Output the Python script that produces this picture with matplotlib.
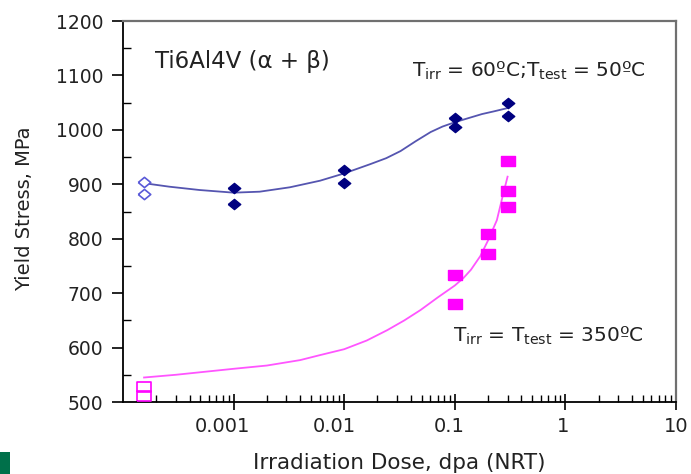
import matplotlib
matplotlib.use("Agg")
import matplotlib.pyplot as plt
from matplotlib.patches import Rectangle
from matplotlib.transforms import ScaledTranslation
from matplotlib.ticker import LogLocator, FixedLocator, MultipleLocator, NullFormatter

plt.rcParams['font.family'] = ['DejaVu Sans']
plt.rcParams['mathtext.fontset'] = 'dejavusans'

# ---- data ----
# Tirr = 60C, Ttest = 50C  (blue)
unirr_x_blue = [1.55e-4, 1.55e-4]
unirr_y_blue = [905, 883]
dose_blue = [0.001, 0.001, 0.01, 0.01, 0.1, 0.1, 0.3, 0.3]
ys_blue = [894, 864, 926, 903, 1021, 1005, 1049, 1025]
fit_x_blue = [1.55e-4, 2.62e-4, 4.91e-4, 1e-3, 1.72e-3, 3.23e-3, 6.05e-3, 1e-2, 1.72e-2,
              2.4e-2, 3.23e-2, 4.42e-2, 6.05e-2, 7.73e-2, 0.1, 0.13, 0.176, 0.226, 0.3]
fit_y_blue = [902, 895.6, 889.5, 884.6, 886.4, 894.5, 906.6, 920, 937,
              948, 961, 979, 996, 1006, 1014, 1021, 1029, 1034, 1040]

# Tirr = Ttest = 350C (magenta)
unirr_x_mag = [1.55e-4, 1.55e-4]
unirr_y_mag = [528, 511]
dose_mag = [0.1, 0.1, 0.2, 0.2, 0.3, 0.3, 0.3]
ys_mag = [733, 680, 808, 771, 943, 888, 859]
fit_x_mag = [1.55e-4, 3e-4, 1e-3, 2e-3, 4e-3, 6e-3, 1e-2, 1.6e-2, 2.45e-2, 3.5e-2, 4.9e-2,
             7e-2, 0.1, 0.12, 0.14, 0.17, 0.2, 0.24, 0.27, 0.3]
fit_y_mag = [545, 550, 561, 567, 577, 586, 597, 613, 632, 650, 669,
             692, 714, 728, 743, 768, 797, 834, 877, 914]

xticks = [0.001, 0.01, 0.1, 1, 10]
xticklabels = ['0.001', '0.01', '0.1', '1', '10']
yticks = [500, 600, 700, 800, 900, 1000, 1100, 1200]

# ---- figure ----
fig = plt.figure(figsize=(6.91, 4.74), dpi=100)
ax = fig.add_axes([123/691, 1 - 402/474, 553/691, 381/474])

diamond = [(-1, 0), (0, 0.82), (1, 0), (0, -0.82), (-1, 0)]
rect = [(-1, -0.75), (1, -0.75), (1, 0.75), (-1, 0.75), (-1, -0.75)]

blue_dark = '#000080'
blue_line = '#5555b0'
mag = '#ff00ff'

ax.plot(fit_x_blue, fit_y_blue, color=blue_line, lw=1.3, zorder=2,
        solid_joinstyle='round')
ax.plot(fit_x_mag, fit_y_mag, color='#ff55ff', lw=1.3, zorder=2,
        solid_joinstyle='round')

ax.plot(unirr_x_blue, unirr_y_blue, linestyle='none', marker=diamond, ms=9,
        mfc='white', mec='#5a5ad8', mew=1.2, zorder=3)
ax.plot(dose_blue, ys_blue, linestyle='none', marker=diamond, ms=9,
        mfc=blue_dark, mec=blue_dark, zorder=3)
ax.plot(unirr_x_mag, unirr_y_mag, linestyle='none', marker=rect, ms=10,
        mfc='none', mec=mag, mew=1.2, zorder=3)
ax.plot(dose_mag, ys_mag, linestyle='none', marker=rect, ms=10.5,
        mfc=mag, mec=mag, zorder=3)

ax.set_xscale('log')
ax.set_xlim(1e-4, 10)
ax.set_ylim(500, 1200)

ax.xaxis.set_major_locator(FixedLocator(xticks))
ax.set_xticklabels(xticklabels)
ax.xaxis.set_minor_locator(LogLocator(base=10, subs=range(2, 10), numticks=20))
ax.xaxis.set_minor_formatter(NullFormatter())
ax.yaxis.set_major_locator(FixedLocator(yticks))
ax.yaxis.set_minor_locator(MultipleLocator(50))

ax.tick_params(axis='x', which='major', direction='inout', length=12, width=1.2,
               labelsize=14, pad=5, colors='black', labelcolor='#222222')
ax.tick_params(axis='x', which='minor', direction='in', length=5, width=1.0)
ax.tick_params(axis='y', which='major', direction='out', length=8, width=1.2,
               labelsize=13.5, pad=6, labelcolor='#222222')
ax.tick_params(axis='y', which='minor', direction='in', length=6, width=1.0)

# the reference's x tick labels sit slightly left of their ticks
label_shift_px = [-11, -10, -6, -2, 0]
for lab, dx in zip(ax.get_xticklabels(), label_shift_px):
    lab.set_transform(lab.get_transform() + ScaledTranslation(dx / 100, 0, fig.dpi_scale_trans))

for s in ['left', 'bottom']:
    ax.spines[s].set_color('black')
    ax.spines[s].set_linewidth(1.3)
for s in ['top', 'right']:
    ax.spines[s].set_color('#707070')
    ax.spines[s].set_linewidth(1.6)

ax.set_xlabel('Irradiation Dose, dpa (NRT)', fontsize=15.5, color='#222222', labelpad=12)
ax.set_ylabel('Yield Stress, MPa', fontsize=14, color='#222222')
ax.yaxis.set_label_coords(-0.16, 0.508)

ax.text(0.058, 0.876, 'Ti6Al4V (α + β)', transform=ax.transAxes,
        fontsize=16.5, color='#222222', va='baseline', ha='left')
ax.text(0.5226, 0.854, r'T$_{\rm irr}$ = 60ºC;T$_{\rm test}$ = 50ºC', transform=ax.transAxes,
        fontsize=14.5, color='#222222', va='baseline', ha='left')
ax.text(0.597, 0.158, r'T$_{\rm irr}$ = T$_{\rm test}$ = 350ºC', transform=ax.transAxes,
        fontsize=14.5, color='#222222', va='baseline', ha='left')

# small green decoration at lower-left corner
fig.patches.append(Rectangle((0, 0), 10/691, 22/474, transform=fig.transFigure,
                             facecolor='#00704a', edgecolor='none'))

fig.savefig('out.png', dpi=100)
